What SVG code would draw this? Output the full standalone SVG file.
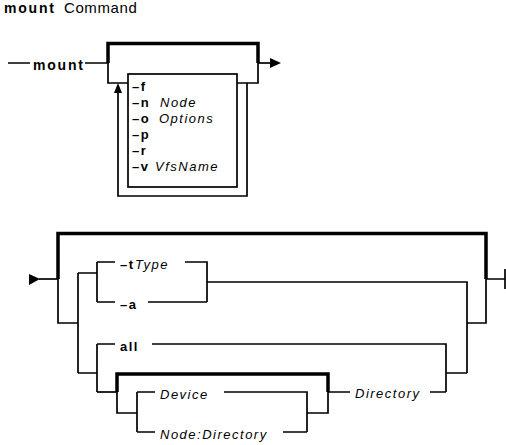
<svg xmlns="http://www.w3.org/2000/svg" width="506" height="445" viewBox="0 0 506 445">
<style>
.ln{fill:none;stroke:#000;stroke-width:1.7}
.tk{fill:none;stroke:#000;stroke-width:3.5}
.ah{fill:#000;stroke:none}
text{font-family:"Liberation Sans",Arial,sans-serif;font-size:13px;letter-spacing:1.5px;fill:#000}
.b{font-weight:bold}
.i{font-style:italic}
</style>
<rect width="506" height="445" fill="#fff"/>
<g id="title">
<text x="4" y="13" class="b" style="font-size:14px;letter-spacing:1.8px">mount</text>
<text x="64" y="13" style="font-size:15px;letter-spacing:0.6px">Command</text>
</g>
<g id="connectors">
<!-- top diagram -->
<path class="ln" d="M8,63 H30 M85,63 H108"/>
<path class="tk" d="M108,63 V43.5 H258 V63"/>
<path class="ln" d="M258,63 H271"/>
<polygon class="ah" points="270,58 281,63 270,68"/>
<path class="ln" d="M108,63 V83 H128 M237,83 H258 V63"/>
<path class="ln" d="M247,83 V196 H118 V92"/>
<polygon class="ah" points="118,83 114,93 122,93"/>
<!-- bottom diagram -->
<polygon class="ah" points="29,274 40,279 29,285"/>
<path class="ln" d="M39,279 H58"/>
<path class="tk" d="M58,279 V233.5 H486 V279"/>
<path class="ln" d="M58,279 V323 H78 M78,273 V373 M78,273 H97 M97,262 V302"/>
<path class="ln" d="M97,262 H115 M185,262 H207 V302 M97,302 H115 M148,302 H207"/>
<path class="ln" d="M207,282 H467 V373 M467,323 H486 V279 H505 M505,269 V289"/>
<path class="ln" d="M78,373 H97 M97,344 V392 M97,344 H115 M152,344 H446 V392 M446,373 H467"/>
<path class="ln" d="M97,392 H117"/>
<path class="tk" d="M117,392 V374 H328 V392"/>
<path class="ln" d="M117,392 V413 H137 M137,392 V432 M137,392 H155 M224,392 H307 V432 M137,432 H155 M283,432 H307 M307,413 H328 V392 M328,392 H350 M430,392 H446"/>
</g>
<g id="mount">
<text x="33" y="70" class="b" style="font-size:14px;letter-spacing:1.8px">mount</text>
</g>
<g id="options">
<rect class="ln" x="128" y="74" width="109" height="113"/>
<text x="132" y="91" class="b">–f</text>
<text x="132" y="107"><tspan class="b">–n</tspan><tspan x="160" class="i">Node</tspan></text>
<text x="132" y="123"><tspan class="b">–o</tspan><tspan x="159" class="i">Options</tspan></text>
<text x="132" y="139" class="b">–p</text>
<text x="132" y="155" class="b">–r</text>
<text x="132" y="171"><tspan class="b">–v</tspan><tspan x="155" class="i">VfsName</tspan></text>
</g>
<g id="type">
<text x="120" y="269"><tspan class="b">–t</tspan><tspan x="135" class="i">Type</tspan></text>
</g>
<g id="a">
<text x="120" y="309" class="b">–a</text>
</g>
<g id="all">
<text x="120" y="351" class="b">all</text>
</g>
<g id="device">
<text x="160" y="399" class="i">Device</text>
</g>
<g id="nodedirectory">
<text x="160" y="439" class="i">Node:Directory</text>
</g>
<g id="directory">
<text x="355" y="398" class="i">Directory</text>
</g>
</svg>
